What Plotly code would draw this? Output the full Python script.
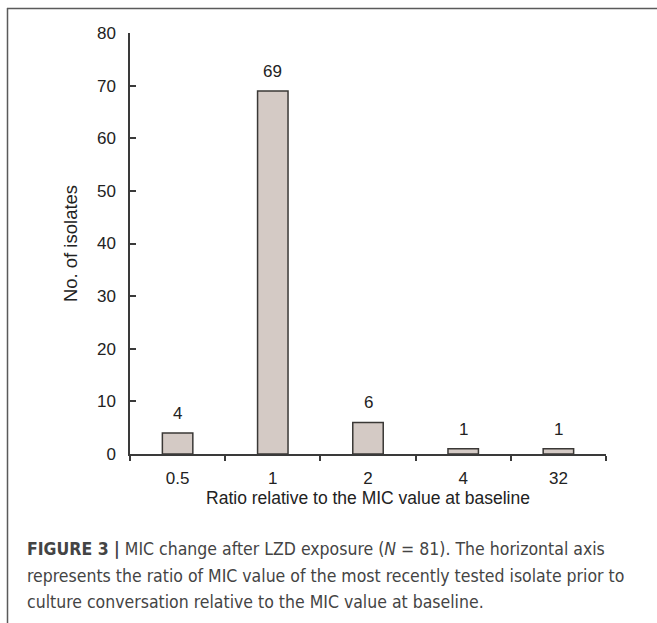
import plotly.graph_objects as go

categories = ["0.5", "1", "2", "4", "32"]
counts = [4, 69, 6, 1, 1]
y_ticks = [0, 10, 20, 30, 40, 50, 60, 70, 80]

W, H = 657, 623
L, R, T, B = 130, 606, 33, 454


def px(x):
    return (x - L) / (R - L)


def py(y):
    return (B - y) / (B - T)


fig = go.Figure()
fig.add_trace(go.Bar(
    x=list(range(len(categories))), y=counts, width=0.32,
    marker=dict(color="#d4cac5", line=dict(color="#3a3836", width=1.5)),
    hoverinfo="skip",
))

for i, v in enumerate(counts):
    fig.add_annotation(x=i, y=v, text=str(v), showarrow=False, yanchor="bottom",
                       yshift=8, font=dict(size=17, color="#222", family="Liberation Sans"))

caption_font = dict(size=17.5, color="#444444",
                    family="Liberation Sans Narrow, DejaVu Sans Condensed, Roboto Condensed, Liberation Sans")
caption = [
    "<b>FIGURE 3 |</b> MIC change after LZD exposure (<i>N</i> = 81). The horizontal axis",
    "represents the ratio of MIC value of the most recently tested isolate prior to",
    "culture conversation relative to the MIC value at baseline.",
]
for i, line in enumerate(caption):
    fig.add_annotation(xref="paper", yref="paper", x=px(25), y=py(549 + 26.5 * i),
                       xanchor="left", yanchor="middle", text=line, showarrow=False,
                       font=caption_font)

border = "#5a5a5a"
fig.add_shape(type="line", xref="paper", yref="paper", x0=px(7), x1=px(657), y0=py(8.5), y1=py(8.5),
              line=dict(color=border, width=1.5))
fig.add_shape(type="line", xref="paper", yref="paper", x0=px(7.5), x1=px(7.5), y0=py(8), y1=py(623),
              line=dict(color=border, width=1.5))

fig.update_layout(
    width=W, height=H,
    margin=dict(l=L, r=W - R, t=T, b=H - B),
    paper_bgcolor="white", plot_bgcolor="white",
    showlegend=False,
    font=dict(family="Liberation Sans", color="#222"),
    xaxis=dict(
        range=[-0.5, 4.5], tickmode="array", tickvals=list(range(len(categories))), ticktext=categories,
        ticks="", showline=True, linecolor="#3a3a3a", linewidth=1.5, ticklabelstandoff=8,
        showgrid=False, zeroline=False, tickfont=dict(size=17, color="#222"),
        minor=dict(tickmode="array", tickvals=[i + 0.5 for i in range(-1, len(categories))],
                   ticks="outside", ticklen=5, tickcolor="#3a3a3a", tickwidth=1.5, showgrid=False),
        title=dict(text="Ratio relative to the MIC value at baseline", font=dict(size=17.5, color="#222"), standoff=5),
    ),
    yaxis=dict(
        range=[0, 80], tickvals=y_ticks, ticks="inside", ticklen=6, tickcolor="#3a3a3a", tickwidth=1.5,
        showline=True, linecolor="#3a3a3a", linewidth=1.5, showgrid=False, zeroline=False,
        tickfont=dict(size=17, color="#222"), ticklabelstandoff=9,
        title=dict(text="No. of isolates", font=dict(size=18.5, color="#222"), standoff=14),
    ),
)

fig.write_html("out.html", config={"displayModeBar": False},
               post_script="document.body.style.margin='0';")
